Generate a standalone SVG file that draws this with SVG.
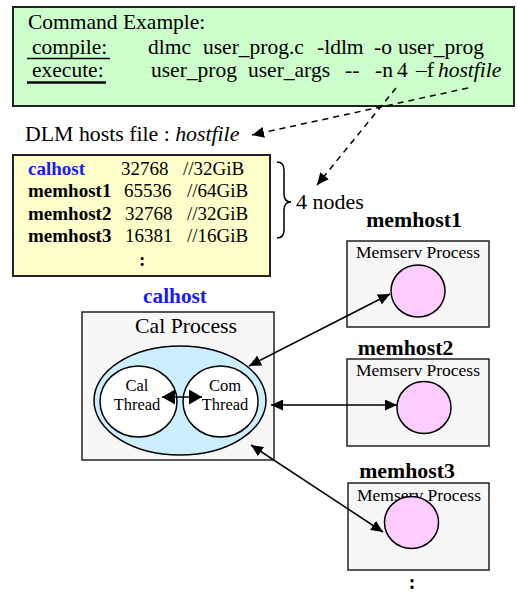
<svg xmlns="http://www.w3.org/2000/svg" width="517" height="595" viewBox="0 0 517 595">
<defs>
<marker id="ah" viewBox="0 0 12 11" refX="12" refY="5.5" markerWidth="12" markerHeight="11" markerUnits="userSpaceOnUse" orient="auto-start-reverse">
<path d="M0,0 L12,5.5 L0,11 z" fill="#000"/>
</marker>
<marker id="ahs" viewBox="0 0 13 15" refX="13" refY="7.5" markerWidth="13" markerHeight="15" markerUnits="userSpaceOnUse" orient="auto-start-reverse">
<path d="M0,0 L13,7.5 L0,15 z" fill="#000"/>
</marker>
</defs>
<style>
text{font-family:"Liberation Serif","Times New Roman",serif;fill:#000}
.cmd{font-size:21.5px}
.t19{font-size:19px}
.big{font-size:21.8px}
.b{font-weight:bold}
.blue{fill:#1a1aff}
.small{font-size:16.5px}
.ms{font-size:17.5px}
.box{fill:#f7f7f7;stroke:#222;stroke-width:1.5}
.pink{fill:#ffccff;stroke:#000;stroke-width:1.5}
.white{fill:#fff;stroke:#000;stroke-width:1.5}
.conn{stroke:#000;stroke-width:1.5;fill:none}
.dash{stroke:#000;stroke-width:1.5;fill:none;stroke-dasharray:6,5}
</style>
<g id="command">
<rect x="13" y="7" width="501" height="99" fill="#ccffcc" stroke="#222" stroke-width="2"/>
<text class="cmd" x="28" y="29">Command Example:</text>
<text class="cmd" y="54"><tspan x="32">compile:</tspan><tspan x="148">dlmc</tspan><tspan x="203">user_prog.c</tspan><tspan x="317">-ldlm</tspan><tspan x="374">-o</tspan><tspan x="398">user_prog</tspan></text>
<line x1="27" y1="58.5" x2="110" y2="58.5" stroke="#000" stroke-width="1.3"/>
<text class="cmd" y="77"><tspan x="32">execute:</tspan><tspan x="151">user_prog</tspan><tspan x="248">user_args</tspan><tspan x="345">--</tspan><tspan x="375">-n</tspan><tspan x="397">4</tspan><tspan x="416">–f</tspan><tspan x="438" font-style="italic">hostfile</tspan></text>
<line x1="27" y1="82.5" x2="106" y2="82.5" stroke="#000" stroke-width="2.5"/>
</g>
<g id="hostfile-label">
<text class="big" x="25" y="141">DLM hosts file : <tspan font-style="italic">hostfile</tspan></text>
</g>
<g id="hostsfile">
<rect x="13" y="155" width="257" height="121" fill="#ffffcc" stroke="#222" stroke-width="2"/>
<text class="t19 b blue" x="28" y="175">calhost</text>
<text class="t19" x="121" y="175">32768</text>
<text class="t19" x="183" y="175">//32GiB</text>
<text class="t19 b" x="28" y="197">memhost1</text>
<text class="t19" x="124" y="197">65536</text>
<text class="t19" x="187" y="197">//64GiB</text>
<text class="t19 b" x="28" y="220">memhost2</text>
<text class="t19" x="125" y="220">32768</text>
<text class="t19" x="187" y="220">//32GiB</text>
<text class="t19 b" x="28" y="242">memhost3</text>
<text class="t19" x="125" y="242">16381</text>
<text class="t19" x="187" y="242">//16GiB</text>
<text class="t19 b" x="139" y="266">:</text>
</g>
<g id="brace">
<path d="M277,162 Q284,162 284,170 L284,194 Q284,202 291,202 Q284,202 284,210 L284,230 Q284,238 277,238" fill="none" stroke="#000" stroke-width="1.5"/>
<text font-size="22px" x="296" y="209">4 nodes</text>
</g>
<g id="calhost">
<text class="b blue" font-size="21.3px" x="175" y="303" text-anchor="middle">calhost</text>
<rect class="box" x="82" y="312" width="192" height="148"/>
<text font-size="21.7px" x="186" y="333" text-anchor="middle">Cal Process</text>
<ellipse cx="180" cy="400.5" rx="86" ry="54.5" fill="#cceeff" stroke="#000" stroke-width="1.5"/>
<ellipse class="white" cx="138.5" cy="401.5" rx="38.5" ry="35.5"/>
<ellipse class="white" cx="220.5" cy="401.5" rx="37.5" ry="35.5"/>
<text class="small" x="137" y="391" text-anchor="middle">Cal</text>
<text class="small" x="137" y="410" text-anchor="middle">Thread</text>
<text class="small" x="225" y="391" text-anchor="middle">Com</text>
<text class="small" x="225" y="410" text-anchor="middle">Thread</text>
</g>
<g id="memhost1">
<text class="big b" x="414" y="227" text-anchor="middle">memhost1</text>
<rect class="box" x="347" y="241" width="142" height="86"/>
<text class="ms" x="418" y="258" text-anchor="middle">Memserv Process</text>
<ellipse class="pink" cx="418" cy="291" rx="27" ry="26"/>
</g>
<g id="memhost2">
<text class="big b" x="405.5" y="355" text-anchor="middle">memhost2</text>
<rect class="box" x="347" y="359" width="142" height="87"/>
<text class="ms" x="418" y="376" text-anchor="middle">Memserv Process</text>
<ellipse class="pink" cx="424" cy="407.5" rx="27" ry="26"/>
</g>
<g id="memhost3">
<text class="big b" x="407" y="478" text-anchor="middle">memhost3</text>
<rect class="box" x="348" y="483" width="141" height="87"/>
<text class="ms" x="419" y="501" text-anchor="middle">Memserv Process</text>
<ellipse class="pink" cx="411.5" cy="522.5" rx="27" ry="26"/>
<text class="b" font-size="20px" x="412" y="589" text-anchor="middle">:</text>
</g>
<g id="connectors">
<line class="dash" x1="468" y1="88" x2="252" y2="135" marker-end="url(#ah)"/>
<line class="dash" x1="396" y1="88" x2="317" y2="185" marker-end="url(#ah)"/>
<line class="conn" x1="162" y1="397" x2="202" y2="397" marker-start="url(#ahs)" marker-end="url(#ahs)"/>
<line class="conn" x1="249" y1="366" x2="390" y2="294" marker-start="url(#ah)" marker-end="url(#ah)"/>
<line class="conn" x1="271" y1="405" x2="397" y2="405" marker-start="url(#ah)" marker-end="url(#ah)"/>
<line class="conn" x1="251" y1="445" x2="383" y2="532" marker-start="url(#ah)" marker-end="url(#ah)"/>
</g>
</svg>
